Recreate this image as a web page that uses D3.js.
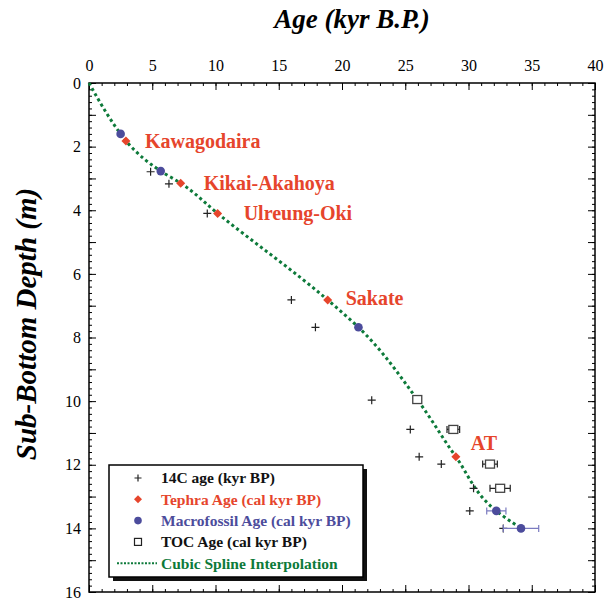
<!DOCTYPE html>
<html>
<head>
<meta charset="utf-8">
<script src="https://cdn.jsdelivr.net/npm/d3@7"></script>
<style>
  body { margin: 0; background: #fff; }
  svg text { font-family: "Liberation Serif", "Times New Roman", serif; }
</style>
</head>
<body>
<div id="chart"></div>
<script>
// ---- data (age kyr, depth m) ----
const c14Age   = [4.87, 6.32, 9.35, 16.0, 17.9, 22.35, 25.4, 26.1, 27.85, 30.4, 30.1, 32.75];
const c14Depth = [2.79, 3.17, 4.10, 6.82, 7.68, 9.97, 10.89, 11.75, 11.98, 12.74, 13.45, 14.0];

const tephraName  = ["Kawagodaira", "Kikai-Akahoya", "Ulreung-Oki", "Sakate", "AT"];
const tephraAge   = [2.92, 7.25, 10.17, 18.87, 29.0];
const tephraDepth = [1.82, 3.15, 4.10, 6.82, 11.75];

const macroAge   = [2.5, 5.67, 21.3, 32.2, 34.15];
const macroDepth = [1.6, 2.77, 7.68, 13.45, 14.0];
const macroErr   = [0, 0, 0, 0.76, 1.4];

const tocAge   = [25.95, 28.8, 31.7, 32.5];
const tocDepth = [9.95, 10.89, 11.98, 12.74];
const tocErr   = [0.3, 0.5, 0.58, 0.8];

// spline knots
const splineAge   = [0, 2.5, 2.92, 5.67, 7.25, 10.17, 18.87, 21.3, 25.95, 29.0, 32.2, 34.15];
const splineDepth = [0, 1.6, 1.82, 2.77, 3.15, 4.10, 6.82, 7.68, 9.95, 11.75, 13.45, 14.0];

const ageTicks   = [0, 5, 10, 15, 20, 25, 30, 35, 40];
const depthTicks = [0, 2, 4, 6, 8, 10, 12, 14, 16];

const legendLabels = ["14C age (kyr BP)", "Tephra Age (cal kyr BP)", "Macrofossil Age (cal kyr BP)",
                      "TOC Age (cal kyr BP)", "Cubic Spline Interpolation"];

const RED = "#e6452c", BLUE = "#4c4c9c", GREEN = "#0d7a3a";
const SERIF = "'Liberation Serif', 'Times New Roman', serif";

const W = 606, H = 603;
const margin = {left: 89, top: 83, right: 11, bottom: 11};

const svg = d3.select("#chart").append("svg")
  .attr("width", W).attr("height", H);

let x = d3.scaleLinear().domain([0, 40]).range([margin.left, W - margin.right]);
let y = d3.scaleLinear().domain([0, 16]).range([margin.top, H - margin.bottom]);

/* ------------------ axes ------------------ */
function clean(g) {
  g.attr("font-family", null);
  g.select(".domain").remove();
  g.selectAll("line").attr("stroke", "#000");
}

svg.append("g").attr("transform", `translate(0,${y(0)})`)
  .call(d3.axisTop(x).tickValues(d3.range(0, 41, 1)).tickSize(-3).tickFormat(""))
  .call(clean);
svg.append("g").attr("transform", `translate(0,${y(0)})`)
  .call(d3.axisTop(x).tickValues(ageTicks).tickSize(-7).tickPadding(12))
  .call(clean)
  .selectAll("text").attr("fill", "#000")
  .style("font-size", "16px").style("font-family", SERIF);

svg.append("g").attr("transform", `translate(0,${y(16)})`)
  .call(d3.axisBottom(x).tickValues(d3.range(0, 41, 1)).tickSize(-3).tickFormat(""))
  .call(clean);
svg.append("g").attr("transform", `translate(0,${y(16)})`)
  .call(d3.axisBottom(x).tickValues(ageTicks).tickSize(-7).tickFormat(""))
  .call(clean);

svg.append("g").attr("transform", `translate(${x(0)},0)`)
  .call(d3.axisLeft(y).tickValues(d3.range(0, 16.01, 0.2)).tickSize(-3).tickFormat(""))
  .call(clean);
svg.append("g").attr("transform", `translate(${x(0)},0)`)
  .call(d3.axisLeft(y).tickValues(d3.range(0, 17, 1)).tickSize(-7).tickFormat(""))
  .call(clean);
svg.append("g").attr("transform", `translate(${x(0)},0)`)
  .call(d3.axisLeft(y).tickValues(depthTicks).tickSize(0).tickPadding(8))
  .call(clean)
  .selectAll("text").attr("fill", "#000")
  .style("font-size", "16px").style("font-family", SERIF);

svg.append("g").attr("transform", `translate(${x(40)},0)`)
  .call(d3.axisRight(y).tickValues(d3.range(0, 16.01, 0.2)).tickSize(-3).tickFormat(""))
  .call(clean);
svg.append("g").attr("transform", `translate(${x(40)},0)`)
  .call(d3.axisRight(y).tickValues(d3.range(0, 17, 1)).tickSize(-7).tickFormat(""))
  .call(clean);

svg.append("rect")
  .attr("x", x(0)).attr("y", y(0))
  .attr("width", x(40) - x(0)).attr("height", y(16) - y(0))
  .attr("fill", "none").attr("stroke", "#000").attr("stroke-width", 1.5);

// titles
svg.append("text")
  .attr("x", 352).attr("y", 28)
  .attr("text-anchor", "middle")
  .style("font-size", "27px").style("font-family", SERIF)
  .attr("font-weight", "bold").attr("font-style", "italic")
  .text("Age (kyr B.P.)");

svg.append("text")
  .attr("transform", "translate(36,324) rotate(-90)")
  .attr("text-anchor", "middle")
  .style("font-size", "29px").style("font-family", SERIF)
  .attr("font-weight", "bold").attr("font-style", "italic")
  .text("Sub-Bottom Depth (m)");

/* ------------------ spline ------------------ */
let line = d3.line()
  .x(i => x(splineAge[i]))
  .y(i => y(splineDepth[i]))
  .curve(d3.curveMonotoneY);

svg.append("path")
  .attr("d", line(d3.range(splineAge.length)))
  .attr("fill", "none")
  .attr("stroke", GREEN)
  .attr("stroke-width", 3)
  .attr("stroke-dasharray", "3,3");

/* ------------------ markers ------------------ */
function cross(g, cx, cy, s) {
  g.append("path")
    .attr("d", `M${cx - s},${cy}H${cx + s}M${cx},${cy - s}V${cy + s}`)
    .attr("stroke", "#222").attr("stroke-width", 1.2);
}
function diamond(g, cx, cy, s) {
  g.append("path")
    .attr("d", `M${cx},${cy - s}L${cx + s},${cy}L${cx},${cy + s}L${cx - s},${cy}Z`)
    .attr("fill", RED);
}
function errBar(g, x0, x1, cy, col) {
  g.append("path")
    .attr("d", `M${x0},${cy}H${x1}M${x0},${cy - 3.5}V${cy + 3.5}M${x1},${cy - 3.5}V${cy + 3.5}`)
    .attr("stroke", col).attr("stroke-width", 1.2).attr("fill", "none");
}

let marks = svg.append("g");

// TOC
tocAge.forEach((a, i) => {
  errBar(marks, x(a - tocErr[i]), x(a + tocErr[i]), y(tocDepth[i]), "#222");
  marks.append("rect")
    .attr("x", x(a) - 4.5).attr("y", y(tocDepth[i]) - 4)
    .attr("width", 9).attr("height", 8)
    .attr("fill", "#fff").attr("stroke", "#444").attr("stroke-width", 1.3);
});

// 14C
c14Age.forEach((a, i) => cross(marks, x(a), y(c14Depth[i]), 4));

// macrofossil
macroAge.forEach((a, i) => {
  if (macroErr[i] > 0)
    errBar(marks, x(a - macroErr[i]), x(a + macroErr[i]), y(macroDepth[i]), "#7b7bc0");
  marks.append("circle")
    .attr("cx", x(a)).attr("cy", y(macroDepth[i])).attr("r", 4.3)
    .attr("fill", BLUE);
});

// tephra
tephraAge.forEach((a, i) => diamond(marks, x(a), y(tephraDepth[i]), 4.5));

// tephra labels
const labelDx = [19, 23, 26, 18, 15];
const labelDy = [0, 0, 0, -2, -14];
tephraName.forEach((n, i) => {
  svg.append("text")
    .attr("x", x(tephraAge[i]) + labelDx[i])
    .attr("y", y(tephraDepth[i]) + labelDy[i])
    .attr("dy", "0.35em")
    .style("font-size", "20px").style("font-family", SERIF)
    .attr("font-weight", "bold")
    .attr("fill", RED)
    .text(n);
});

/* ------------------ legend ------------------ */
let lg = svg.append("g").attr("transform", "translate(109,465)");
lg.append("rect").attr("x", 4).attr("y", 4).attr("width", 254).attr("height", 112).attr("fill", "#111");
lg.append("rect").attr("width", 254).attr("height", 112)
  .attr("fill", "#fff").attr("stroke", "#000").attr("stroke-width", 1.5);

const legendColors = ["#111", RED, BLUE, "#111", GREEN];
legendLabels.forEach((t, i) => {
  let cy = 13 + i * 21.3;
  let sx = 29;
  if (i === 0) cross(lg, sx, cy, 3.5);
  if (i === 1) diamond(lg, sx, cy, 4);
  if (i === 2) lg.append("circle").attr("cx", sx).attr("cy", cy).attr("r", 3.8).attr("fill", BLUE);
  if (i === 3) lg.append("rect").attr("x", sx - 3.5).attr("y", cy - 3.5).attr("width", 7).attr("height", 7)
    .attr("fill", "#fff").attr("stroke", "#222").attr("stroke-width", 1.2);
  if (i === 4) lg.append("line").attr("x1", 8).attr("x2", 48).attr("y1", cy).attr("y2", cy)
    .attr("stroke", GREEN).attr("stroke-width", 2).attr("stroke-dasharray", "2,1.5");
  lg.append("text")
    .attr("x", 52).attr("y", cy).attr("dy", "0.35em")
    .style("font-size", "15.5px").style("font-family", SERIF)
    .attr("font-weight", "bold")
    .attr("fill", legendColors[i])
    .text(t);
});
</script>
</body>
</html>
